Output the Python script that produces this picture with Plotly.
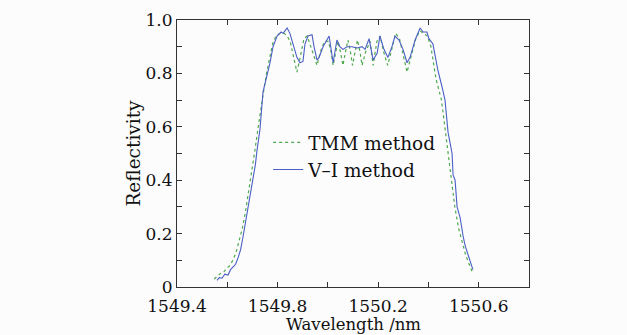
import plotly.graph_objects as go

# ---- data ----
vi_wl = [1549.559, 1549.568, 1549.579, 1549.590, 1549.603, 1549.613, 1549.623, 1549.633,
         1549.643, 1549.653, 1549.663, 1549.672, 1549.682, 1549.690, 1549.698, 1549.706,
         1549.712, 1549.718, 1549.724, 1549.730, 1549.742, 1549.750, 1549.758, 1549.770,
         1549.782, 1549.798, 1549.814, 1549.822, 1549.830, 1549.838, 1549.849, 1549.861,
         1549.877, 1549.889, 1549.901, 1549.909, 1549.921, 1549.937, 1549.945, 1549.957,
         1549.965, 1549.981, 1550.005, 1550.021, 1550.036, 1550.048, 1550.060, 1550.076,
         1550.096, 1550.116, 1550.136, 1550.148, 1550.164, 1550.180, 1550.196, 1550.207,
         1550.223, 1550.239, 1550.255, 1550.267, 1550.283, 1550.299, 1550.315, 1550.327,
         1550.347, 1550.367, 1550.379, 1550.394, 1550.402, 1550.418, 1550.430, 1550.438,
         1550.454, 1550.466, 1550.478, 1550.494, 1550.498, 1550.506, 1550.514, 1550.526,
         1550.538, 1550.546, 1550.558, 1550.565, 1550.572, 1550.577]
vi_r = [0.025, 0.035, 0.033, 0.048, 0.045, 0.065, 0.075, 0.085,
        0.11, 0.14, 0.19, 0.24, 0.29, 0.33, 0.37, 0.43,
        0.46, 0.51, 0.55, 0.59, 0.73, 0.76, 0.79, 0.84,
        0.90, 0.94, 0.955, 0.95, 0.96, 0.97, 0.95, 0.91,
        0.86, 0.84, 0.845, 0.91, 0.94, 0.945, 0.90, 0.85,
        0.86, 0.90, 0.94, 0.84, 0.925, 0.90, 0.89, 0.90,
        0.90, 0.895, 0.90, 0.89, 0.93, 0.85, 0.875, 0.94,
        0.89, 0.86, 0.90, 0.94, 0.925, 0.89, 0.84, 0.86,
        0.925, 0.97, 0.955, 0.955, 0.93, 0.91, 0.845, 0.81,
        0.75, 0.70, 0.58, 0.50, 0.42, 0.40, 0.30, 0.26,
        0.19, 0.155, 0.12, 0.10, 0.085, 0.065]

tmm_wl = [1549.548, 1549.560, 1549.572, 1549.585, 1549.597, 1549.610, 1549.622, 1549.635,
          1549.647, 1549.660, 1549.672, 1549.684, 1549.696, 1549.708, 1549.720, 1549.732,
          1549.744, 1549.756, 1549.768, 1549.780, 1549.794, 1549.810, 1549.826, 1549.838,
          1549.850, 1549.862, 1549.877, 1549.890, 1549.905, 1549.918, 1549.932, 1549.945,
          1549.957, 1549.970, 1549.986, 1550.002, 1550.013, 1550.021, 1550.030, 1550.040,
          1550.050, 1550.060, 1550.070, 1550.080, 1550.090, 1550.098, 1550.108, 1550.118,
          1550.128, 1550.136, 1550.150, 1550.168, 1550.180, 1550.195, 1550.208, 1550.222,
          1550.238, 1550.255, 1550.270, 1550.285, 1550.298, 1550.315, 1550.330, 1550.350,
          1550.366, 1550.382, 1550.396, 1550.410, 1550.420, 1550.430, 1550.452, 1550.466,
          1550.480, 1550.493, 1550.505, 1550.520, 1550.535, 1550.548, 1550.560, 1550.570,
          1550.575]
tmm_r = [0.03, 0.04, 0.05, 0.055, 0.07, 0.08, 0.10, 0.13,
         0.17, 0.22, 0.28, 0.35, 0.42, 0.50, 0.58, 0.66,
         0.73, 0.80, 0.86, 0.91, 0.94, 0.95, 0.95, 0.94,
         0.92, 0.87, 0.805, 0.86, 0.93, 0.94, 0.90, 0.86,
         0.83, 0.88, 0.92, 0.92, 0.88, 0.83, 0.88, 0.92,
         0.88, 0.83, 0.88, 0.925, 0.88, 0.83, 0.88, 0.925,
         0.88, 0.83, 0.88, 0.92, 0.83, 0.92, 0.94, 0.88,
         0.83, 0.90, 0.95, 0.93, 0.88, 0.805, 0.86, 0.93,
         0.96, 0.95, 0.94, 0.90, 0.84, 0.78, 0.70, 0.60,
         0.50, 0.40, 0.30, 0.22, 0.16, 0.12, 0.09, 0.07,
         0.055]

x_ticks = [1549.4, 1549.6, 1549.8, 1550.0, 1550.2, 1550.4, 1550.6, 1550.8]
x_labels = ["1549.4", "", "1549.8", "", "1550.2", "", "1550.6", ""]
y_ticks = [0, 0.1, 0.2, 0.3, 0.4, 0.5, 0.6, 0.7, 0.8, 0.9, 1.0]
y_labels = ["0", "", "0.2", "", "0.4", "", "0.6", "", "0.8", "", "1.0"]
x_title = "Wavelength /nm"
y_title = "Reflectivity"

FONT = "DejaVu Serif"

fig = go.Figure()
fig.add_trace(go.Scatter(x=tmm_wl, y=tmm_r, mode="lines", name="TMM method",
                         line=dict(color="#4fa84f", width=1.2, dash="dot")))
fig.add_trace(go.Scatter(x=vi_wl, y=vi_r, mode="lines", name="V\u2013I method",
                         line=dict(color="#4b5fc4", width=1.1)))

axis_common = dict(showgrid=False, zeroline=False, showline=True, linecolor="#333",
                   linewidth=1, mirror="ticks", ticks="inside", ticklen=5, automargin=False,
                   tickcolor="#333", tickfont=dict(family=FONT, size=17, color="#111"))

fig.update_xaxes(range=[1549.4, 1550.8], tickvals=x_ticks, ticktext=x_labels,
                 ticklabelstandoff=4, **axis_common)
fig.update_yaxes(range=[0, 1.0], tickvals=y_ticks, ticktext=y_labels,
                 title=dict(text=y_title, font=dict(family=FONT, size=18.5, color="#111"),
                            standoff=0),
                 **axis_common)

# x-axis title placed flush with the bottom edge of the picture
fig.add_annotation(text=x_title, xref="paper", yref="paper", x=0.5, y=0,
                   xanchor="center", yanchor="bottom", yshift=-48, showarrow=False,
                   borderpad=0, font=dict(family=FONT, size=16.5, color="#111"))

fig.update_layout(
    width=627, height=335,
    margin=dict(l=177, r=98, t=20, b=48, autoexpand=False),
    paper_bgcolor="#fcfcfc", plot_bgcolor="#fcfcfc",
    showlegend=True,
    legend=dict(x=0.259, y=0.611, xanchor="left", yanchor="top",
                bgcolor="rgba(0,0,0,0)", borderwidth=0,
                font=dict(family=FONT, size=18.5, color="#111"),
                tracegroupgap=0),
)

fig.write_html("out.html", config={"displayModeBar": False},
               post_script="document.body.style.margin='0';document.body.style.overflow='hidden';")
